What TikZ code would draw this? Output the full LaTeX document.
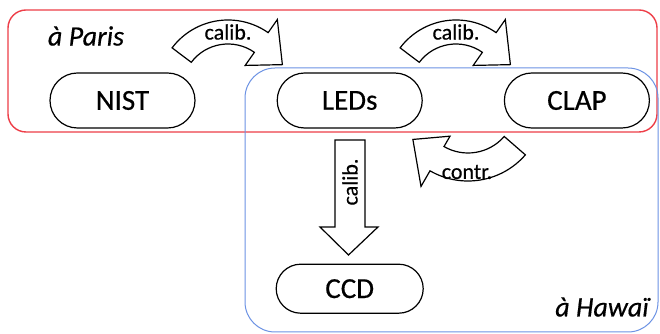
\documentclass[tikz,border=0pt]{standalone}
\usepackage{fontspec}
\setmainfont{Carlito}[FakeBold=0.5]
\usepackage{tikz}
\usetikzlibrary{positioning,shapes.misc}
\definecolor{parisred}{RGB}{238, 62, 72}
\definecolor{hawaiblue}{RGB}{108, 146, 228}

\begin{document}
\begin{tikzpicture}[x=1pt, y=1pt,
  pill/.style={rounded rectangle, draw, line width=1.2pt, fill=white, minimum width=145pt, minimum height=55pt, inner sep=0pt, font=\fontsize{29}{34}\selectfont},
  blockarrow/.style={draw, line width=1.2pt, fill=white, line join=miter},
  arrowlabel/.style={font=\fontsize{22}{26}\selectfont},
  placelabel/.style={font=\fontsize{28}{33}\selectfont\itshape}]
\fill[white] (0,0) rectangle (660,334);
\useasboundingbox (0,0) rectangle (660,334);

\draw[parisred, line width=1.4pt, rounded corners=18pt] (8,202) rectangle (657,324);
\draw[hawaiblue, line width=1pt, rounded corners=30pt] (245,2) rectangle (658,266);

\node[placelabel] (paris) at (86,298) {à Paris};
\node[placelabel] (hawai) at (602,27) {à Hawaï};

\node[pill] (nist) at (122.5,233.5) {NIST};
\node[pill, right=81pt of nist] (leds) {LEDs};
\node[pill, right=81pt of leds] (clap) {CLAP};
\node[pill, minimum height=49pt, minimum width=147pt, below=135pt of leds] (ccd) {CCD};

\draw[blockarrow, shift={(228,244)}] (143:70pt) arc[start angle=143, end angle=55, radius=70pt]
  -- (55:86pt) -- (25:60pt) -- (55:30pt) -- (55:46pt)
  arc[start angle=55, end angle=143, radius=46pt] -- cycle;
\node[arrowlabel] (cal1) at (228,302) {calib.};

\draw[blockarrow, shift={(456,244)}] (143:70pt) arc[start angle=143, end angle=55, radius=70pt]
  -- (55:86pt) -- (25:60pt) -- (55:30pt) -- (55:46pt)
  arc[start angle=55, end angle=143, radius=46pt] -- cycle;
\node[arrowlabel] (cal2) at (456,302) {calib.};

\draw[blockarrow, shift={(468,229)}] (-41:76pt) arc[start angle=-41, end angle=-120, radius=76pt]
  -- (-120:94pt) -- (-148:65pt) -- (-120:36pt) -- (-120:48pt)
  arc[start angle=-120, end angle=-41, radius=48pt] -- cycle;
\node[arrowlabel] (contr) at (467,162) {contr.};

\draw[blockarrow] (335,194) -- (365,194) -- (365,107) -- (378,107) -- (348.5,79)
  -- (320,107) -- (335,107) -- cycle;
\node[arrowlabel, rotate=90] (cal3) at (350,152) {calib.};
\end{tikzpicture}
\end{document}
